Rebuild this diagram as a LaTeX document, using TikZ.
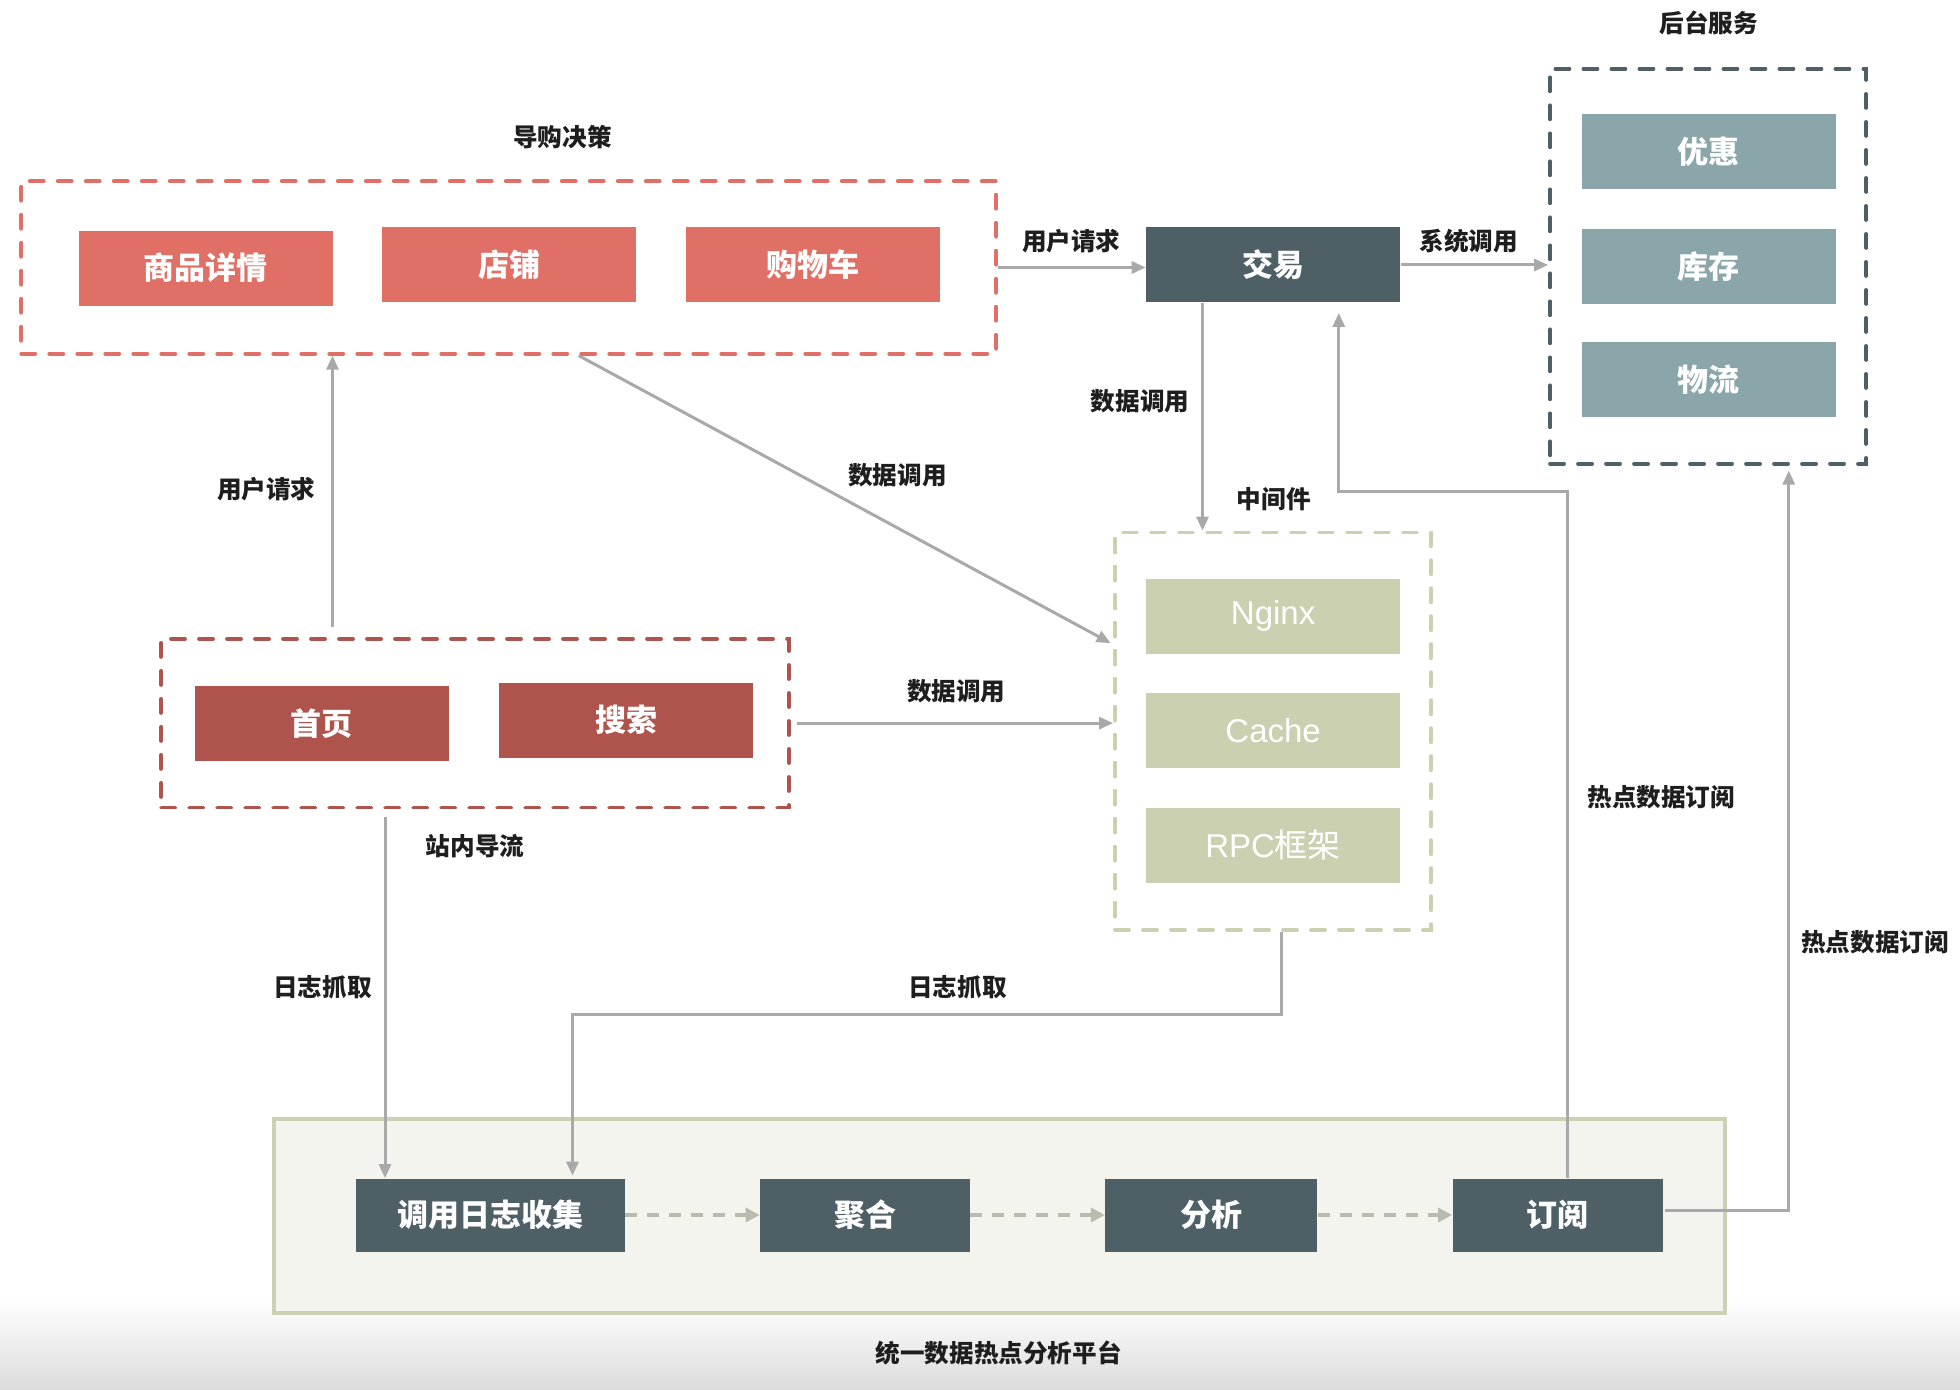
\documentclass[tikz,border=0pt]{standalone}
\usepackage{fontspec}
\setmainfont{Noto Sans CJK SC}
\newfontfamily\latinfont{Liberation Sans}
\usetikzlibrary{arrows.meta,calc}
\definecolor{redA}{HTML}{E06F66}
\definecolor{redB}{HTML}{AE544C}
\definecolor{slate}{HTML}{4F5F66}
\definecolor{tealbox}{HTML}{8AA6AB}
\definecolor{olivebox}{HTML}{CBD0B1}
\definecolor{platfill}{HTML}{F3F4EE}
\definecolor{platline}{HTML}{CDD1B3}
\definecolor{arrgray}{HTML}{A9A9A9}
\definecolor{dashgray}{HTML}{B8BBAD}
\definecolor{lbltext}{HTML}{1E1E1E}
\begin{document}
\begin{tikzpicture}[x=0.625pt,y=-0.625pt,
  box/.style={inner sep=0pt, minimum width=127pt, minimum height=37.5pt, text=white,
    font=\bfseries\fontsize{15.5}{16}\selectfont},
  lightbox/.style={box, font=\fontsize{16.5}{17}\selectfont},
  grp/.style={inner sep=0pt, line width=1.9pt, dash pattern=on 7pt off 7pt, line cap=round},
  lbl/.style={inner sep=0pt, text=lbltext, font=\bfseries\fontsize{12.3}{13}\selectfont},
  arr/.style={draw=arrgray, line width=1.5pt, -{Triangle[length=7pt,width=6pt]}},
  dasharr/.style={draw=dashgray, line width=1.8pt, dash pattern=on 6pt off 5pt,
    -{Triangle[length=7pt,width=7pt]}}
]
\useasboundingbox (0,0) rectangle (1568,1112);
\fill[white] (0,0) rectangle (1568,1112);
\shade[top color=white, bottom color=black!14] (0,1040) rectangle (1568,1112);

% groups
\node[grp, draw=redA, minimum width=487.5pt, minimum height=86.25pt] (gA) at (407,214) {};
\node[grp, draw=redB, minimum width=313.75pt, minimum height=84.4pt] (gB) at (380,578.5) {};
\node[grp, draw=slate, minimum width=158.1pt, minimum height=197.5pt] (gC) at (1366.5,213) {};
\node[grp, draw=olivebox, minimum width=158.1pt, minimum height=198.75pt] (gD) at (1018.5,585) {};
\node[inner sep=0pt, fill=platfill, draw=platline, line width=2pt,
      minimum width=725.6pt, minimum height=96.9pt] (plat) at (799.5,972.5) {};

% boxes
\node[box, fill=redA] (spxq) at (164.5,214.5) {商品详情};
\node[box, fill=redA] (dp) at (407.5,212) {店铺};
\node[box, fill=redA] (gwc) at (650.5,212) {购物车};
\node[box, fill=slate] (jy) at (1018.5,212) {交易};
\node[box, fill=tealbox] (yh) at (1367,121.5) {优惠};
\node[box, fill=tealbox] (kc) at (1367,213) {库存};
\node[box, fill=tealbox] (wl) at (1367,304) {物流};
\node[lightbox, fill=olivebox] (ngx) at (1018.5,493) {\latinfont Nginx};
\node[lightbox, fill=olivebox] (cache) at (1018.5,584.5) {\latinfont Cache};
\node[lightbox, fill=olivebox] (rpc) at (1018.5,676) {{\latinfont RPC}框架};
\node[box, fill=redB] (sy) at (257.5,578.5) {首页};
\node[box, fill=redB] (ss) at (501,576) {搜索};
\node[box, fill=slate, minimum width=134.4pt, minimum height=36.5pt] (rz) at (392.5,972) {调用日志收集};
\node[box, fill=slate, minimum width=105pt, minimum height=36.5pt] (jh) at (692,972) {聚合};
\node[box, fill=slate, minimum width=106pt, minimum height=36.5pt] (fx) at (969,972) {分析};
\node[box, fill=slate, minimum width=105pt, minimum height=36.5pt] (dy) at (1246,972) {订阅};

% titles and labels
\node[lbl] (t1) at (450,110) {导购决策};
\node[lbl] (t2) at (1367,18) {后台服务};
\node[lbl] (t3) at (1019,399) {中间件};
\node[lbl] (t4) at (799,1082) {统一数据热点分析平台};
\node[lbl] (l1) at (857,193) {用户请求};
\node[lbl] (l2) at (1175,193) {系统调用};
\node[lbl] (l3) at (912,321) {数据调用};
\node[lbl] (l4) at (718,380) {数据调用};
\node[lbl] (l5) at (213,391) {用户请求};
\node[lbl] (l6) at (765,553) {数据调用};
\node[lbl] (l7) at (380,677) {站内导流};
\node[lbl] (l8) at (258,790) {日志抓取};
\node[lbl] (l9) at (766,790) {日志抓取};
\node[lbl] (l10) at (1329,638) {热点数据订阅};
\node[lbl] (l11) at (1500,754) {热点数据订阅};

% connectors
\draw[arr] (gA.east) -- (gA.east -| jy.west);
\draw[arr] (jy.east) -- (jy.east -| gC.west);
\coordinate (j1) at ($(jy.south)+(-56.5,0)$);
\draw[arr] (j1) -- (j1 |- gD.north);
\draw[arr] ($(dy.north)+(8,0)$) -- ++(0,-549) -| ($(jy.south)+(52.5,8)$);
\draw[arr] ($(gA.south)+(56,0)$) -- ($(gD.north west)+(-2,90)$);
\coordinate (u1) at ($(gB.north)+(-114,-8)$);
\draw[arr] (u1) -- (u1 |- gA.south);
\draw[arr] ($(gB.east)+(5,0)$) -- (gB.east -| gD.west);
\coordinate (c1) at ($(gB.south)+(-72,6)$);
\draw[arr] (c1) -- (c1 |- rz.north);
\draw[arr] ($(gD.south)+(6.5,0)$) |- ($(rz.north)+(65.5,-131)$) -- ($(rz.north)+(65.5,-2)$);
\draw[dasharr] (rz.east) -- (jh.west);
\draw[dasharr] (jh.east) -- (fx.west);
\draw[dasharr] (fx.east) -- (dy.west);
\draw[arr] ($(dy.east)+(2,-4)$) -| ($(gC.south)+(64.5,4)$);
\end{tikzpicture}
\end{document}
